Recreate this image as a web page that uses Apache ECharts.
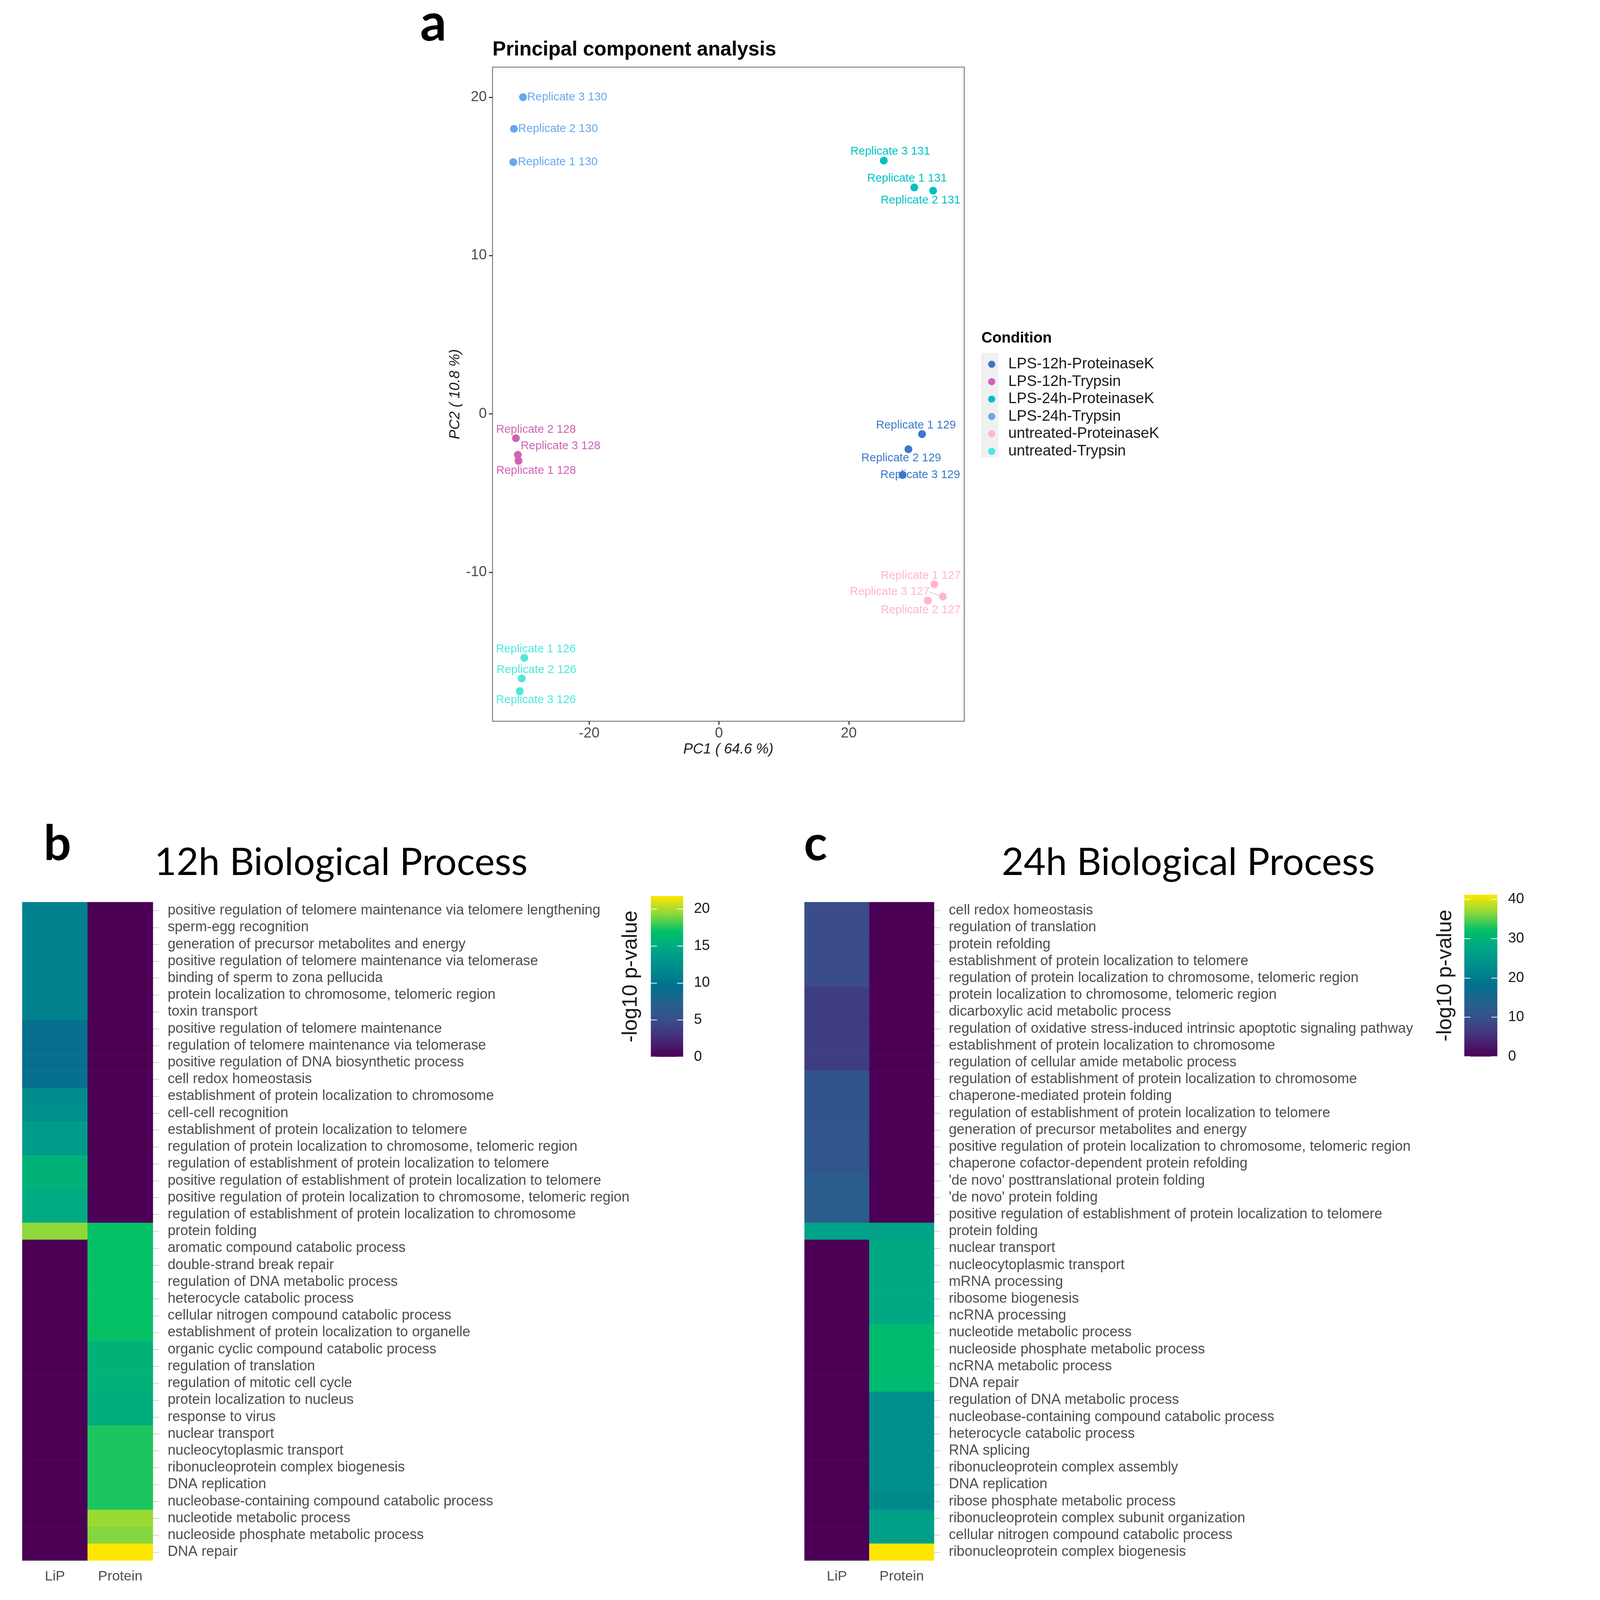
<!DOCTYPE html>
<html><head><meta charset="utf-8">
<script src="https://cdn.jsdelivr.net/npm/echarts@6/dist/echarts.min.js"></script>
<style>html,body{margin:0;padding:0;background:#fff;overflow:hidden}#c{width:100vw;height:100vh}</style>
</head><body><div id="c"></div>
<script>
// ---------- DATA ----------
const conditions = ['LPS-12h-ProteinaseK','LPS-12h-Trypsin','LPS-24h-ProteinaseK','LPS-24h-Trypsin','untreated-ProteinaseK','untreated-Trypsin'];
const sampleLabels = [
  'Replicate 1 129','Replicate 2 129','Replicate 3 129',
  'Replicate 1 128','Replicate 2 128','Replicate 3 128',
  'Replicate 1 131','Replicate 2 131','Replicate 3 131',
  'Replicate 1 130','Replicate 2 130','Replicate 3 130',
  'Replicate 1 127','Replicate 2 127','Replicate 3 127',
  'Replicate 1 126','Replicate 2 126','Replicate 3 126'];
const sampleCondition = [0,0,0, 1,1,1, 2,2,2, 3,3,3, 4,4,4, 5,5,5];
const pc1 = [31.3, 29.2, 28.3, -30.9, -31.3, -31.0, 30.1, 33.0, 25.4, -31.7, -31.6, -30.2, 33.2, 32.2, 34.5, -30.0, -30.4, -30.7];
const pc2 = [-1.27, -2.23, -3.85, -2.96, -1.53, -2.58, 14.3, 14.1, 16.0, 15.9, 18.0, 20.0, -10.76, -11.78, -11.53, -15.4, -16.7, -17.5];
const pcaXRange = [-34.9, 37.8];
const pcaYRange = [-19.4, 21.9];
const pcaXTicks = [-20, 0, 20];
const pcaYTicks = [-10, 0, 10, 20];

const hmColumns = ['LiP', 'Protein'];
const terms12h = [
  'positive regulation of telomere maintenance via telomere lengthening',
  'sperm-egg recognition',
  'generation of precursor metabolites and energy',
  'positive regulation of telomere maintenance via telomerase',
  'binding of sperm to zona pellucida',
  'protein localization to chromosome, telomeric region',
  'toxin transport',
  'positive regulation of telomere maintenance',
  'regulation of telomere maintenance via telomerase',
  'positive regulation of DNA biosynthetic process',
  'cell redox homeostasis',
  'establishment of protein localization to chromosome',
  'cell-cell recognition',
  'establishment of protein localization to telomere',
  'regulation of protein localization to chromosome, telomeric region',
  'regulation of establishment of protein localization to telomere',
  'positive regulation of establishment of protein localization to telomere',
  'positive regulation of protein localization to chromosome, telomeric region',
  'regulation of establishment of protein localization to chromosome',
  'protein folding',
  'aromatic compound catabolic process',
  'double-strand break repair',
  'regulation of DNA metabolic process',
  'heterocycle catabolic process',
  'cellular nitrogen compound catabolic process',
  'establishment of protein localization to organelle',
  'organic cyclic compound catabolic process',
  'regulation of translation',
  'regulation of mitotic cell cycle',
  'protein localization to nucleus',
  'response to virus',
  'nuclear transport',
  'nucleocytoplasmic transport',
  'ribonucleoprotein complex biogenesis',
  'DNA replication',
  'nucleobase-containing compound catabolic process',
  'nucleotide metabolic process',
  'nucleoside phosphate metabolic process',
  'DNA repair'];
const lip12h = [11.1, 11.1, 11.1, 11.1, 11.1, 11.1, 11.1, 9.2, 9.2, 9.2, 9.2, 12.1, 12.4, 13.5, 13.5, 15.7, 15.7, 15.0, 15.0, 19.4,
  0, 0, 0, 0, 0, 0, 0, 0, 0, 0, 0, 0, 0, 0, 0, 0, 0, 0, 0];
const protein12h = [0, 0, 0, 0, 0, 0, 0, 0, 0, 0, 0, 0, 0, 0, 0, 0, 0, 0, 0,
  17.0, 17.0, 17.0, 17.0, 17.0, 17.0, 17.0, 15.7, 15.7, 15.7, 15.3, 15.3, 17.4, 17.4, 17.4, 17.4, 17.4, 19.6, 19.2, 21.75];

const terms24h = [
  'cell redox homeostasis',
  'regulation of translation',
  'protein refolding',
  'establishment of protein localization to telomere',
  'regulation of protein localization to chromosome, telomeric region',
  'protein localization to chromosome, telomeric region',
  'dicarboxylic acid metabolic process',
  'regulation of oxidative stress-induced intrinsic apoptotic signaling pathway',
  'establishment of protein localization to chromosome',
  'regulation of cellular amide metabolic process',
  'regulation of establishment of protein localization to chromosome',
  'chaperone-mediated protein folding',
  'regulation of establishment of protein localization to telomere',
  'generation of precursor metabolites and energy',
  'positive regulation of protein localization to chromosome, telomeric region',
  'chaperone cofactor-dependent protein refolding',
  "'de novo' posttranslational protein folding",
  "'de novo' protein folding",
  'positive regulation of establishment of protein localization to telomere',
  'protein folding',
  'nuclear transport',
  'nucleocytoplasmic transport',
  'mRNA processing',
  'ribosome biogenesis',
  'ncRNA processing',
  'nucleotide metabolic process',
  'nucleoside phosphate metabolic process',
  'ncRNA metabolic process',
  'DNA repair',
  'regulation of DNA metabolic process',
  'nucleobase-containing compound catabolic process',
  'heterocycle catabolic process',
  'RNA splicing',
  'ribonucleoprotein complex assembly',
  'DNA replication',
  'ribose phosphate metabolic process',
  'ribonucleoprotein complex subunit organization',
  'cellular nitrogen compound catabolic process',
  'ribonucleoprotein complex biogenesis'];
const lip24h = [9.2, 9.2, 9.0, 9.0, 9.0, 7.0, 7.0, 7.0, 7.0, 7.0, 11.0, 11.0, 11.0, 11.2, 11.2, 11.2, 12.4, 12.4, 12.4, 27.0,
  0, 0, 0, 0, 0, 0, 0, 0, 0, 0, 0, 0, 0, 0, 0, 0, 0, 0, 0];
const protein24h = [0, 0, 0, 0, 0, 0, 0, 0, 0, 0, 0, 0, 0, 0, 0, 0, 0, 0, 0,
  27.0, 28.0, 28.0, 28.0, 28.0, 28.0, 31.0, 31.0, 31.0, 31.0, 23.5, 23.5, 23.5, 23.5, 23.5, 23.5, 22.5, 26.4, 26.4, 41.2];

const cbTicks12h = [0, 5, 10, 15, 20];
const cbTicks24h = [0, 10, 20, 30, 40];
const cbMax12h = 21.75;
const cbMax24h = 41.2;

// ---------- STYLE / LAYOUT ----------
const W0 = 4293, H0 = 4457;
const K = Math.min(window.innerWidth / W0, window.innerHeight / H0);
const p = v => v * K;
const condColors = ['#3a79c8', '#cf63b3', '#00c2c2', '#68a8ee', '#ffb5d1', '#4ce9dc'];
const labelShift = {
  'Replicate 3 130': [123, 0], 'Replicate 2 130': [123, 0], 'Replicate 1 130': [124, 0],
  'Replicate 3 131': [18, -25], 'Replicate 1 131': [-20, -25], 'Replicate 2 131': [-35, 27],
  'Replicate 1 129': [-17, -24], 'Replicate 2 129': [-20, 25], 'Replicate 3 129': [49, 0],
  'Replicate 2 128': [56, -24], 'Replicate 3 128': [119, -24], 'Replicate 1 128': [49, 27],
  'Replicate 1 127': [-38, -24], 'Replicate 3 127': [-148, -13], 'Replicate 2 127': [-20, 27],
  'Replicate 1 126': [32, -24], 'Replicate 2 126': [41, -24], 'Replicate 3 126': [45, 25]
};
const palette = ['#4b0055', '#452a78', '#3a4d8a', '#24628d', '#00728e', '#008c8c', '#00a587', '#00c068', '#8cd83c', '#ffe600'];
const FF = 'Liberation Sans, Arial, sans-serif';
const TF = 'Lato, Open Sans, sans-serif';

function gradient() {
  return {type: 'linear', x: 0, y: 1, x2: 0, y2: 0,
    colorStops: palette.map((c, i) => ({offset: i / (palette.length - 1), color: c}))};
}

// ---------- BUILD ----------
const scatterSeries = conditions.map((cond, ci) => {
  const data = [];
  sampleLabels.forEach((lab, i) => {
    if (sampleCondition[i] !== ci) return;
    const s = labelShift[lab] || [0, 0];
    const item = {name: lab, value: [pc1[i], pc2[i]], label: {offset: [p(s[0]), p(s[1])]}};
    if (lab === 'Replicate 3 127') item.labelLine = {show: true};
    data.push(item);
  });
  return {
    type: 'scatter', name: cond, xAxisIndex: 0, yAxisIndex: 0,
    symbolSize: p(22), itemStyle: {color: condColors[ci], opacity: 1},
    label: {show: true, position: 'inside', formatter: q => q.name,
      color: condColors[ci], fontSize: p(32), fontFamily: FF},
    labelLine: {show: false, lineStyle: {color: condColors[ci], width: p(2)}},
    data: data, z: 3
  };
});

function hmData(lip, prot) {
  const d = [];
  lip.forEach((v, i) => d.push([0, i, v]));
  prot.forEach((v, i) => d.push([1, i, v]));
  return d;
}

const hmYAxis = (gi, terms) => ({
  type: 'category', gridIndex: gi, data: terms, inverse: true, position: 'right',
  axisLine: {show: false},
  axisTick: {show: true, alignWithLabel: true, length: p(18), lineStyle: {color: '#cccccc', width: p(2)}},
  axisLabel: {interval: 0, margin: p(41), fontSize: p(39.5), color: '#4d4d4d', fontFamily: FF},
  splitLine: {show: false}
});
const hmXAxis = (gi) => ({
  type: 'category', gridIndex: gi, data: hmColumns,
  axisLine: {show: false}, axisTick: {show: false},
  axisLabel: {interval: 0, margin: p(25), fontSize: p(39), color: '#4d4d4d', fontFamily: FF},
  splitLine: {show: false}
});
const cbAxisRight = (gi, max, ticks) => ({
  type: 'value', gridIndex: gi, min: 0, max: max, position: 'right',
  axisLine: {show: false, onZero: false},
  axisTick: {show: true, inside: true, length: p(17), lineStyle: {color: '#ffffff', width: p(2)}, customValues: ticks},
  axisLabel: {show: true, margin: p(30), fontSize: p(40), color: '#1a1a1a', fontFamily: FF, customValues: ticks},
  splitLine: {show: false}
});
const cbAxisLeft = (gi, max, ticks, nameGap) => ({
  type: 'value', gridIndex: gi, min: 0, max: max, position: 'left',
  axisLine: {show: false, onZero: false},
  axisTick: {show: true, inside: true, length: p(17), lineStyle: {color: '#ffffff', width: p(2)}, customValues: ticks},
  axisLabel: {show: false},
  splitLine: {show: false},
  name: '-log10 p-value', nameLocation: 'middle', nameGap: p(nameGap), nameRotate: 90,
  nameTextStyle: {fontSize: p(58), color: '#1a1a1a', fontFamily: FF}
});
const hiddenX = (gi) => ({type: 'category', gridIndex: gi, data: ['c'], show: false});
const font = (w, s, f) => (w ? w + ' ' : '') + p(s) + 'px ' + f;

const option = {
  backgroundColor: '#ffffff',
  animation: false,
  textStyle: {fontFamily: FF},
  grid: [
    {left: p(1372), top: p(187), width: p(1314), height: p(1822), show: true, borderColor: '#8a8a8a', borderWidth: p(3), backgroundColor: '#ffffff', outerBoundsMode: 'none'},
    {left: p(62), top: p(2513), width: p(364), height: p(1834), outerBoundsMode: 'none'},
    {left: p(2241), top: p(2513), width: p(361), height: p(1834), outerBoundsMode: 'none'},
    {left: p(1813), top: p(2496), width: p(90), height: p(448), show: true, borderWidth: 0, backgroundColor: gradient(), outerBoundsMode: 'none'},
    {left: p(4079), top: p(2492), width: p(92), height: p(451), show: true, borderWidth: 0, backgroundColor: gradient(), outerBoundsMode: 'none'}
  ],
  xAxis: [
    {type: 'value', gridIndex: 0, min: pcaXRange[0], max: pcaXRange[1],
      axisLine: {show: false, onZero: false},
      axisTick: {show: true, length: p(10), lineStyle: {color: '#333333', width: p(3)}, customValues: pcaXTicks},
      axisLabel: {margin: p(14), fontSize: p(40), color: '#4d4d4d', fontFamily: FF, customValues: pcaXTicks},
      splitLine: {show: false},
      name: 'PC1 ( 64.6 %)', nameLocation: 'middle', nameGap: p(59),
      nameTextStyle: {fontSize: p(40), fontStyle: 'italic', color: '#1a1a1a', fontFamily: FF}},
    hmXAxis(1), hmXAxis(2), hiddenX(3), hiddenX(4)
  ],
  yAxis: [
    {type: 'value', gridIndex: 0, min: pcaYRange[0], max: pcaYRange[1],
      axisLine: {show: false, onZero: false},
      axisTick: {show: true, length: p(10), lineStyle: {color: '#333333', width: p(3)}, customValues: pcaYTicks},
      axisLabel: {margin: p(16), fontSize: p(40), color: '#4d4d4d', fontFamily: FF, customValues: pcaYTicks},
      splitLine: {show: false},
      name: 'PC2 ( 10.8 %)', nameLocation: 'middle', nameGap: p(83), nameRotate: 90,
      nameTextStyle: {fontSize: p(40), fontStyle: 'italic', color: '#1a1a1a', fontFamily: FF}},
    hmYAxis(1, terms12h), hmYAxis(2, terms24h),
    cbAxisRight(3, cbMax12h, cbTicks12h), cbAxisLeft(3, cbMax12h, cbTicks12h, 26),
    cbAxisRight(4, cbMax24h, cbTicks24h), cbAxisLeft(4, cbMax24h, cbTicks24h, 24)
  ],
  legend: {
    orient: 'vertical', left: p(2747), top: p(985), itemWidth: p(20), itemHeight: p(20), itemGap: 0,
    icon: 'circle', selectedMode: false, data: conditions,
    textStyle: {fontSize: p(42), color: '#1a1a1a', lineHeight: p(48.5), fontFamily: FF, padding: [0, 0, 0, p(31)]}
  },
  visualMap: [
    {type: 'continuous', show: false, seriesIndex: 6, min: 0, max: cbMax12h, inRange: {color: palette}},
    {type: 'continuous', show: false, seriesIndex: 7, min: 0, max: cbMax24h, inRange: {color: palette}}
  ],
  series: scatterSeries.concat([
    {type: 'heatmap', xAxisIndex: 1, yAxisIndex: 1, data: hmData(lip12h, protein12h), itemStyle: {borderWidth: 0}},
    {type: 'heatmap', xAxisIndex: 2, yAxisIndex: 2, data: hmData(lip24h, protein24h), itemStyle: {borderWidth: 0}}
  ]),
  graphic: [
    {type: 'rect', shape: {x: p(2733), y: p(983), width: p(48), height: p(291)}, style: {fill: '#f0f0f0'}, z: -1},
    {type: 'text', x: p(2734), y: p(943), style: {text: 'Condition', font: font('bold', 42, FF), fill: '#000', align: 'left', verticalAlign: 'middle'}},
    {type: 'text', x: p(1372), y: p(139), style: {text: 'Principal component analysis', font: font('bold', 56, FF), fill: '#000', align: 'left', verticalAlign: 'middle'}},
    {type: 'text', x: p(1207), y: p(66), style: {text: 'a', font: font('bold', 145, TF), fill: '#000', align: 'center', verticalAlign: 'middle'}},
    {type: 'text', x: p(160), y: p(2352), style: {text: 'b', font: font('bold', 135, TF), fill: '#000', align: 'center', verticalAlign: 'middle'}},
    {type: 'text', x: p(2272), y: p(2352), style: {text: 'c', font: font('bold', 135, TF), fill: '#000', align: 'center', verticalAlign: 'middle'}},
    {type: 'text', x: p(950), y: p(2403), style: {text: '12h Biological Process', font: font('', 106, TF), fill: '#000', align: 'center', verticalAlign: 'middle'}},
    {type: 'text', x: p(3310), y: p(2403), style: {text: '24h Biological Process', font: font('', 106, TF), fill: '#000', align: 'center', verticalAlign: 'middle'}}
  ]
};

const chart = echarts.init(document.getElementById('c'), null, {renderer: 'canvas'});
chart.setOption(option);
</script>
</body></html>
